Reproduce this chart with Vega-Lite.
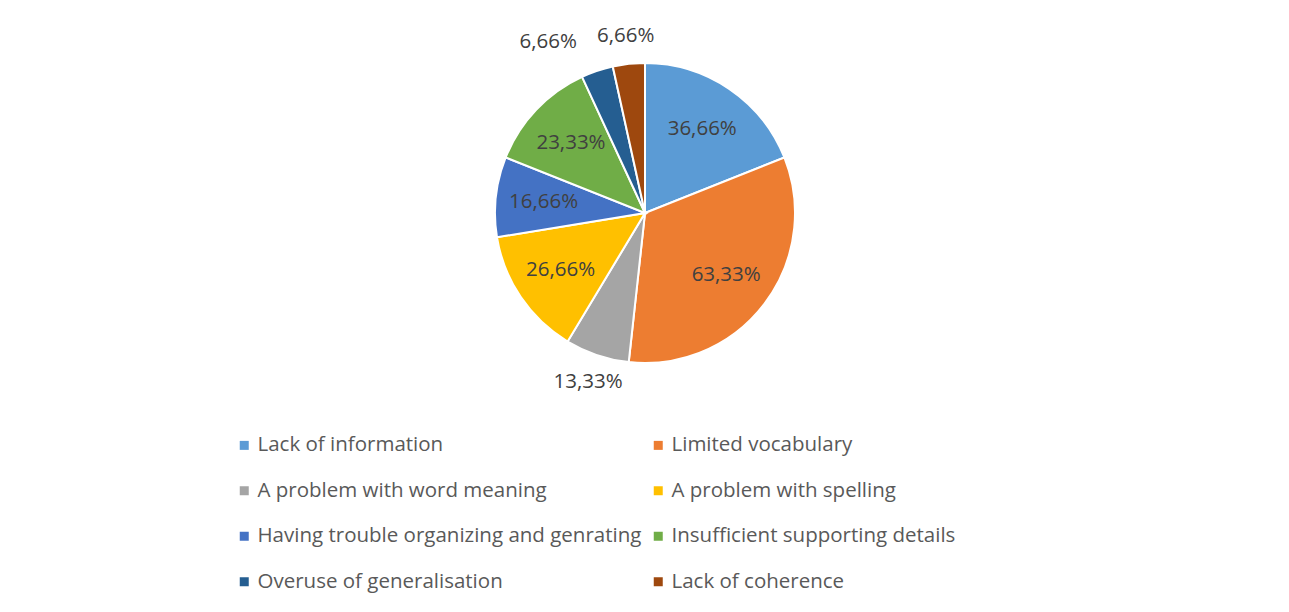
{
  "$schema": "https://vega.github.io/schema/vega-lite/v6.json",
  "autosize": "none",
  "width": 300,
  "height": 300,
  "padding": {"left": 495, "top": 63, "right": 494, "bottom": 249},
  "background": "white",
  "config": {
    "view": {"stroke": null},
    "font": "Open Sans",
    "locale": {
      "number": {"decimal": ",", "thousands": ".", "grouping": [3], "currency": ["", " €"]}
    }
  },
  "data": {
    "values": [
      {"idx": 1, "category": "Lack of information", "share": 0.3666},
      {"idx": 2, "category": "Limited vocabulary", "share": 0.6333},
      {"idx": 3, "category": "A problem with word meaning", "share": 0.1333},
      {"idx": 4, "category": "A problem with spelling", "share": 0.2666},
      {"idx": 5, "category": "Having trouble organizing and genrating", "share": 0.1666},
      {"idx": 6, "category": "Insufficient supporting details", "share": 0.2333},
      {"idx": 7, "category": "Overuse of generalisation", "share": 0.0666},
      {"idx": 8, "category": "Lack of coherence", "share": 0.0666}
    ]
  },
  "encoding": {
    "theta": {"field": "share", "type": "quantitative", "stack": true},
    "order": {"field": "idx", "type": "quantitative"}
  },
  "layer": [
    {
      "mark": {"type": "arc", "stroke": "white", "strokeWidth": 2},
      "encoding": {
        "color": {
          "field": "category",
          "type": "nominal",
          "scale": {
            "domain": ["Lack of information", "Limited vocabulary", "A problem with word meaning", "A problem with spelling", "Having trouble organizing and genrating", "Insufficient supporting details", "Overuse of generalisation", "Lack of coherence"],
            "range": ["#5B9BD5", "#ED7D31", "#A5A5A5", "#FFC000", "#4472C4", "#70AD47", "#255E91", "#9E480E"]
          },
          "legend": {
            "title": null,
            "orient": "none",
            "direction": "horizontal",
            "legendX": -261,
            "legendY": 372,
            "columns": 2,
            "symbolType": "square",
            "symbolSize": 81,
            "symbolStrokeWidth": 0,
            "labelFont": "Open Sans",
            "labelFontSize": 20.5,
            "labelColor": "#595959",
            "labelLimit": 600,
            "labelOffset": 3,
            "rowPadding": 24.5,
            "columnPadding": 6
          }
        }
      }
    },
    {
      "mark": {"type": "text", "radius": 102, "fontSize": 20.5, "font": "Open Sans", "fill": "#404040"},
      "encoding": {
        "detail": {"field": "category"},
        "text": {"condition": {"test": "datum.share >= 0.15", "field": "share", "type": "quantitative", "format": ".2%"}, "value": ""}
      }
    },
    {
      "mark": {"type": "text", "radius": 178, "fontSize": 20.5, "font": "Open Sans", "fill": "#404040"},
      "encoding": {
        "detail": {"field": "category"},
        "text": {"condition": {"test": "datum.share < 0.15 && datum.category != 'Overuse of generalisation'", "field": "share", "type": "quantitative", "format": ".2%"}, "value": ""}
      }
    },
    {
      "mark": {"type": "text", "radius": 178, "dx": -40, "dy": -2, "fontSize": 20.5, "font": "Open Sans", "fill": "#404040"},
      "encoding": {
        "detail": {"field": "category"},
        "text": {"condition": {"test": "datum.category == 'Overuse of generalisation'", "field": "share", "type": "quantitative", "format": ".2%"}, "value": ""}
      }
    }
  ]
}
